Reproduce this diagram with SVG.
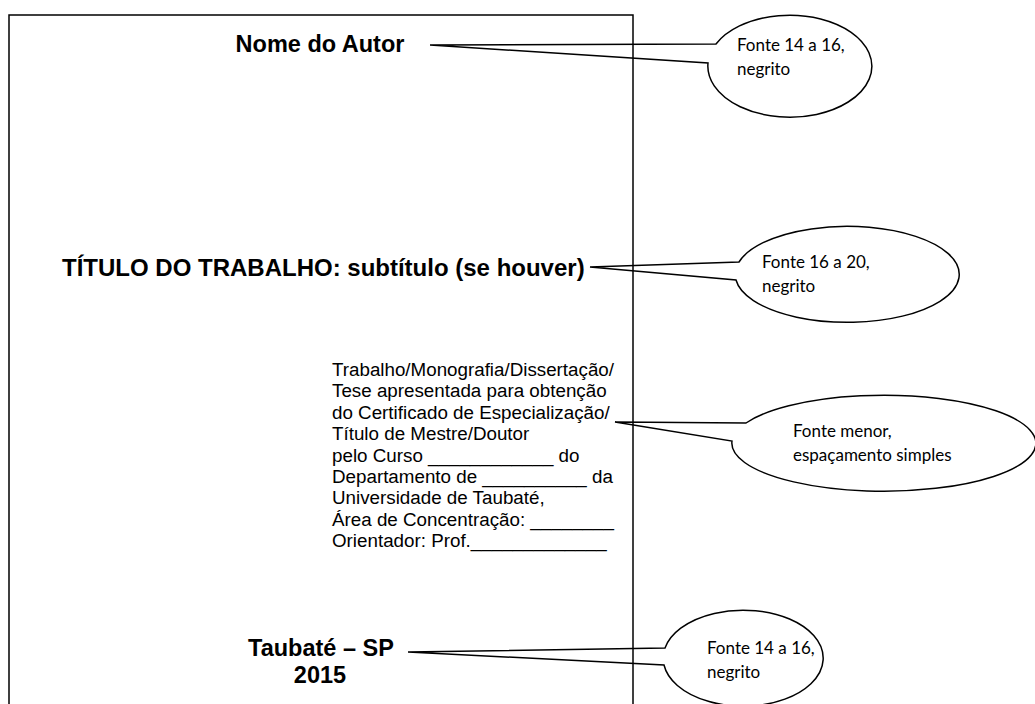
<svg xmlns="http://www.w3.org/2000/svg" width="1035" height="704" viewBox="0 0 1035 704">
<style>
.page{fill:none;stroke:#000;stroke-width:1.5}
.co{fill:none;stroke:#000;stroke-width:1.5;stroke-linejoin:miter}
.h{font-family:"Liberation Sans",Arial,sans-serif;font-weight:bold;fill:#000}
.b{font-family:"Liberation Sans",Arial,sans-serif;font-size:18.8px;fill:#000}
.c{font-family:Lato,"Open Sans",sans-serif;font-size:17px;fill:#000}
</style>
<rect width="1035" height="704" fill="#fff"/>
<rect id="page" class="page" x="9" y="15" width="624" height="700"/>
<g id="connectors">
<path class="co" d="M430,45 L716,44 A82,51 0 1 1 708,63 Z"/>
<path class="co" d="M590,267 L739,262 A112,48 0 1 1 736,280 Z"/>
<path class="co" d="M615,422 L746,423 A152,48 0 1 1 732,441 Z"/>
<path class="co" d="M408,652 L665,648 A80,48 0 1 1 664,665 Z"/>
</g>
<g id="autor"><text class="h" x="320" y="52" font-size="23.5" text-anchor="middle">Nome do Autor</text></g>
<g id="titulo"><text class="h" x="62" y="276" font-size="24">TÍTULO DO TRABALHO: subtítulo (se houver)</text></g>
<g id="descricao">
<text class="b" x="332" y="376" textLength="282" lengthAdjust="spacingAndGlyphs">Trabalho/Monografia/Dissertação/</text>
<text class="b" x="332" y="397.4">Tese apresentada para obtenção</text>
<text class="b" x="332" y="418.8">do Certificado de Especialização/</text>
<text class="b" x="332" y="440.2">Título de Mestre/Doutor</text>
<text class="b" x="332" y="461.6">pelo Curso ____________ do</text>
<text class="b" x="332" y="483">Departamento de __________ da</text>
<text class="b" x="332" y="504.4">Universidade de Taubaté,</text>
<text class="b" x="332" y="525.8">Área de Concentração: ________</text>
<text class="b" x="332" y="547.2">Orientador: Prof._____________</text>
</g>
<g id="local"><text class="h" x="321" y="656" font-size="23.5" text-anchor="middle">Taubaté – SP</text>
<text class="h" x="320" y="683" font-size="23.5" text-anchor="middle">2015</text></g>
<g id="nota1"><text class="c" x="737" y="51">Fonte 14 a 16,</text><text class="c" x="737" y="75">negrito</text></g>
<g id="nota2"><text class="c" x="762" y="268">Fonte 16 a 20,</text><text class="c" x="762" y="292">negrito</text></g>
<g id="nota3"><text class="c" x="793" y="437">Fonte menor,</text><text class="c" x="793" y="461">espaçamento simples</text></g>
<g id="nota4"><text class="c" x="707" y="654">Fonte 14 a 16,</text><text class="c" x="707" y="678">negrito</text></g>
</svg>
